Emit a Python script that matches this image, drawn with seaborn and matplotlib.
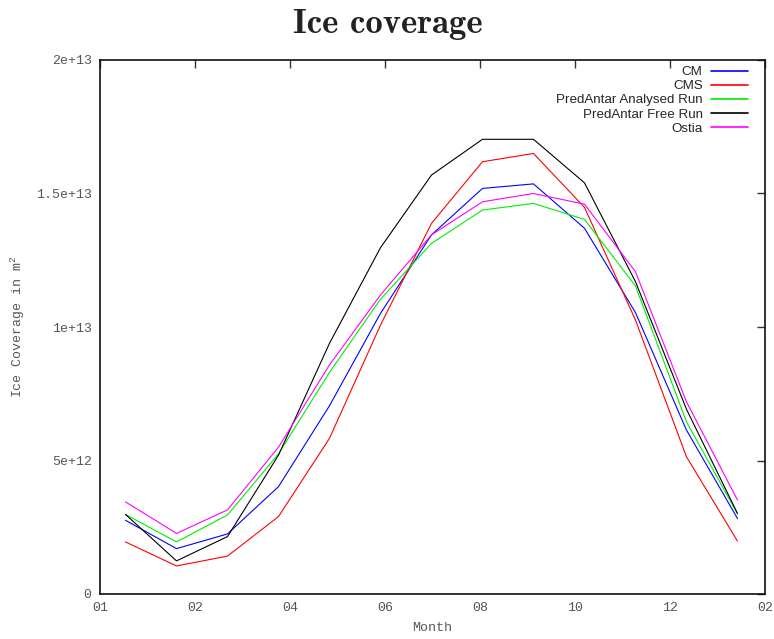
import matplotlib
matplotlib.use("Agg")
import matplotlib.pyplot as plt
import seaborn as sns
import pandas as pd
from matplotlib.ticker import FixedLocator, FixedFormatter

# ---- data (values in 1e12 m^2), monthly points ----
month_pos = [0.5, 1.5, 2.5, 3.5, 4.5, 5.5, 6.5, 7.5, 8.5, 9.5, 10.5, 11.5, 12.5]
cm = [2.76, 1.70, 2.25, 4.02, 7.05, 10.51, 13.45, 15.19, 15.36, 13.70, 10.54, 6.14, 2.83]
cms = [1.95, 1.05, 1.42, 2.90, 5.83, 10.07, 13.88, 16.19, 16.50, 14.48, 10.26, 5.14, 1.98]
pred_analysed = [2.98, 1.95, 2.96, 5.25, 8.30, 11.04, 13.13, 14.38, 14.63, 14.03, 11.54, 6.45, 3.00]
pred_free = [2.98, 1.24, 2.15, 5.20, 9.39, 12.97, 15.69, 17.03, 17.03, 15.40, 11.70, 6.92, 3.02]
ostia = [3.45, 2.27, 3.15, 5.50, 8.58, 11.20, 13.45, 14.69, 15.00, 14.60, 12.07, 7.20, 3.52]

series_names = ["CM", "CMS", "PredAntar Analysed Run", "PredAntar Free Run", "Ostia"]
series_vals = [cm, cms, pred_analysed, pred_free, ostia]
series_colors = ["#0000ff", "#ff0000", "#00ee00", "#000000", "#ff00ff"]

x_tick_pos = [0.0, 1.863, 3.726, 5.589, 7.452, 9.315, 11.178, 13.04]
x_tick_labels = ["01", "02", "04", "06", "08", "10", "12", "02"]
y_tick_vals = [0, 5e12, 1e13, 1.5e13, 2e13]
y_tick_labels = ["0", "5e+12", "1e+13", "1.5e+13", "2e+13"]

rows = []
for name, vals in zip(series_names, series_vals):
    for x, v in zip(month_pos, vals):
        rows.append({"x": x, "y": v * 1e12, "series": name})
df = pd.DataFrame(rows)

sns.set_theme(style="white")
plt.rcParams["font.family"] = ["Liberation Sans", "DejaVu Sans"]
plt.rcParams["mathtext.default"] = "regular"

fig = plt.figure(figsize=(7.74, 6.39), dpi=100)
ax = fig.add_axes([100 / 774, 1 - 594 / 639, 665 / 774, 534 / 639])

sns.lineplot(data=df, x="x", y="y", hue="series", hue_order=series_names,
             palette=dict(zip(series_names, series_colors)), sort=False,
             linewidth=0.8, ax=ax, legend=True)

ax.set_xlim(0, 13.04)
ax.set_ylim(0, 2e13)

ax.xaxis.set_major_locator(FixedLocator(x_tick_pos))
ax.xaxis.set_major_formatter(FixedFormatter(x_tick_labels))
ax.yaxis.set_major_locator(FixedLocator(y_tick_vals))
ax.yaxis.set_major_formatter(FixedFormatter(y_tick_labels))

ax.tick_params(direction="in", top=True, right=True, length=5.5, width=1.0,
               colors="#333333", labelcolor="#555555", labelsize=9.5, pad=6)
for lab in ax.get_xticklabels() + ax.get_yticklabels():
    lab.set_family("Liberation Mono")

for sp in ax.spines.values():
    sp.set_color("#111111")
    sp.set_linewidth(1.2)

ax.set_xlabel("Month", family="Liberation Mono", color="#555555", fontsize=9.5)
ax.set_ylabel("Ice Coverage in m$^{2}$", family="Liberation Mono", color="#555555", fontsize=9.5)
ax.xaxis.set_label_coords(0.499, -0.052)
ax.yaxis.set_label_coords(-0.11, 0.5)

handles, labels = ax.get_legend_handles_labels()
for h in handles:
    h.set_linewidth(1.2)
leg = ax.legend(handles, labels, loc="upper right", frameon=False, markerfirst=False,
                fontsize=9.6, handlelength=2.75, handletextpad=0.65, labelspacing=0.13,
                borderpad=0, borderaxespad=0,
                bbox_to_anchor=(748 / 774, 1 - 66 / 639), bbox_transform=fig.transFigure)
for t in leg.get_texts():
    t.set_ha("right")

fig.text(0.501, 1 - 25 / 639, "Ice coverage", family=["cmb10", "DejaVu Serif"],
         fontsize=25, ha="center", va="center", color="#222222")

fig.savefig("out.png", dpi=100)
